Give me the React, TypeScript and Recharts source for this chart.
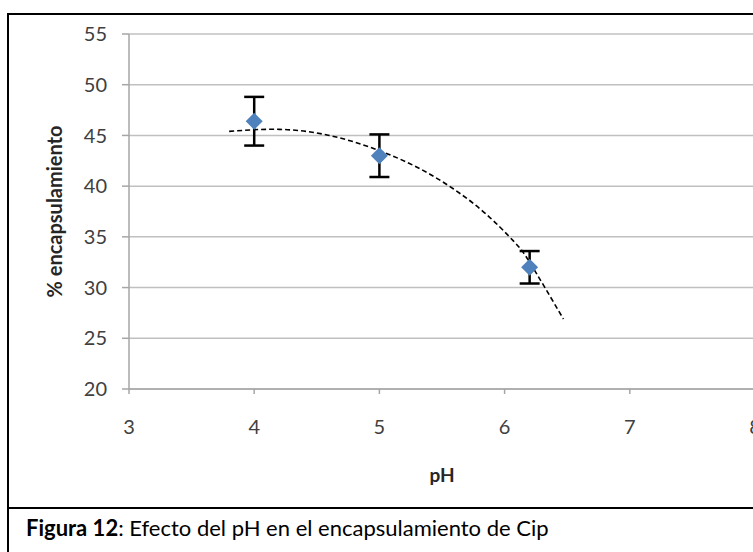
import React from 'react';
import { ComposedChart, Scatter, Line, XAxis, YAxis, CartesianGrid, ErrorBar, Label } from 'recharts';

// Measured data (pH vs % encapsulation) with error bars
const phValues = [4, 5, 6.2];
const encapsulation = [46.4, 43.0, 32.0];
const errorValues = [2.4, 2.1, 1.6];

// Polynomial trend line
const trendPh = [3.8, 4.2, 4.6, 5.0, 5.4, 5.8, 6.07, 6.2, 6.47];
const trendValues = [45.4, 45.6, 45.0, 43.5, 41.2, 37.8, 34.6, 32.5, 26.9];

const xTicks = [3, 4, 5, 6, 7, 8];
const yTicks = [20, 25, 30, 35, 40, 45, 50, 55];

const points = phValues.map((x, i) => ({ x, y: encapsulation[i], err: errorValues[i] }));
const trend = trendPh.map((x, i) => ({ x, y: trendValues[i] }));

const FONT = 'Lato, "Open Sans", sans-serif';

const Diamond = (props: any) => {
  const { cx, cy } = props;
  if (cx == null || cy == null) return null;
  const r = 8.5;
  return (
    <polygon
      points={`${cx},${cy - r} ${cx + r},${cy} ${cx},${cy + r} ${cx - r},${cy}`}
      fill="#4F81BD"
    />
  );
};

export default function App() {
  return (
    <div
      style={{
        position: 'absolute',
        left: 0,
        top: 0,
        width: 753,
        height: 552,
        overflow: 'hidden',
        background: '#fff',
        fontFamily: FONT,
      }}
    >
      {/* outer frame */}
      <div
        style={{
          position: 'absolute',
          left: 7,
          top: 13,
          width: 820,
          height: 620,
          border: '2px solid #000',
          boxSizing: 'border-box',
        }}
      />
      {/* caption separator */}
      <div style={{ position: 'absolute', left: 7, top: 507, width: 820, height: 2, background: '#000' }} />
      {/* caption */}
      <div
        style={{
          position: 'absolute',
          left: 26,
          top: 514,
          fontSize: 22,
          lineHeight: '28px',
          color: '#000',
          whiteSpace: 'nowrap',
          fontFamily: FONT,
        }}
      >
        <b>Figura 12</b>: Efecto del pH en el encapsulamiento de Cip
      </div>

      <div style={{ position: 'absolute', left: 0, top: 0 }}>
        <ComposedChart
          width={800}
          height={500}
          data={points}
          margin={{ top: 34, right: 45, bottom: 11, left: 49 }}
        >
          <CartesianGrid vertical={false} stroke="#C0C0C0" strokeWidth={1.5} />
          <XAxis
            type="number"
            dataKey="x"
            domain={[3, 8]}
            ticks={xTicks}
            interval={0}
            allowDataOverflow
            height={100}
            tickSize={5}
            tickMargin={26}
            axisLine={{ stroke: '#A6A6A6', strokeWidth: 1.5 }}
            tickLine={{ stroke: '#A6A6A6', strokeWidth: 1.5 }}
            tick={{ fill: '#404040', fontSize: 20, fontFamily: FONT }}
          >
            <Label
              value="pH"
              position="insideBottom"
              offset={7}
              style={{ fontWeight: 700, fontSize: 19, fill: '#262626', fontFamily: FONT }}
            />
          </XAxis>
          <YAxis
            type="number"
            dataKey="y"
            domain={[20, 55]}
            ticks={yTicks}
            interval={0}
            allowDataOverflow
            width={80}
            tickSize={7}
            tickMargin={15}
            axisLine={{ stroke: '#A6A6A6', strokeWidth: 1.5 }}
            tickLine={{ stroke: '#A6A6A6', strokeWidth: 1.5 }}
            tick={{ fill: '#404040', fontSize: 20, fontFamily: FONT }}
          >
            <Label
              value="% encapsulamiento"
              angle={-90}
              position="insideLeft"
              offset={6}
              style={{ fontWeight: 700, fontSize: 20, fill: '#262626', fontFamily: FONT, textAnchor: 'middle' }}
            />
          </YAxis>
          <Line
            data={trend}
            dataKey="y"
            type="natural"
            stroke="#000"
            strokeWidth={1.6}
            strokeDasharray="5 3"
            dot={false}
            activeDot={false}
            isAnimationActive={false}
          />
          <Scatter data={points} dataKey="y" shape={<Diamond />} isAnimationActive={false}>
            <ErrorBar dataKey="err" direction="y" width={10} stroke="#000" strokeWidth={2.5} />
          </Scatter>
        </ComposedChart>
      </div>
    </div>
  );
}
